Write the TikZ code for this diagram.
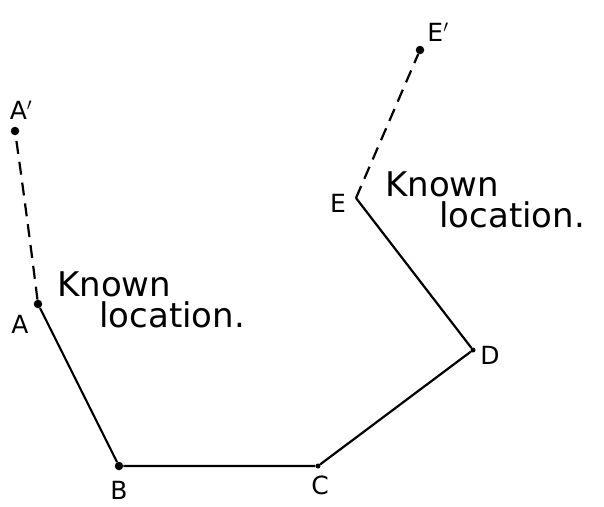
\documentclass[tikz,border=0pt]{standalone}
\usepackage{fontspec}
\newfontfamily\handfont{DejaVu Sans}
\usetikzlibrary{positioning}

\begin{document}
\begin{tikzpicture}[
  x=1pt, y=-1pt,
  font=\handfont,
  stn/.style  = {circle, fill=black, inner sep=0pt, minimum size=8.5pt},
  stns/.style = {circle, fill=black, inner sep=0pt, minimum size=5pt},
  ptlbl/.style = {font=\handfont\fontsize{25}{28}\selectfont, inner sep=0pt},
  known/.style = {font=\handfont\fontsize{34}{31}\selectfont, align=left, anchor=north west, inner sep=0pt},
  leg/.style  = {line width=2.2pt},
  ext/.style  = {line width=2.2pt, dash pattern=on 13pt off 8pt},
]
\useasboundingbox (0,0) rectangle (604,506);
% traverse stations
\node[stn]  (Ap) at (15,131)  {};
\node[stn]  (A)  at (38,304)  {};
\node[stn]  (B)  at (119,466) {};
\node[stns] (C)  at (318,466) {};
\node[stns] (D)  at (473,350) {};
\coordinate (E) at (356,198);
\node[stn]  (Ep) at (420,50)  {};
% labels
\node[ptlbl] at (21,110)  {A$'$};
\node[ptlbl] at (20,324)  {A};
\node[ptlbl] at (119,490) {B};
\node[ptlbl] at (320,485) {C};
\node[ptlbl] at (490,355) {D};
\node[ptlbl] at (338,203) {E};
\node[ptlbl] at (438,32)  {E$'$};
\node[known] at (57,272)  {Known\\\hspace*{42pt}location.};
\node[known] at (385,172) {Known\\\hspace*{54pt}location.};
% legs
\draw[leg] (A) -- (B) -- (C) -- (D) -- (E);
\draw[ext] (A) .. controls (30,240) and (22,180) .. (Ap);
\draw[ext] (E) -- (Ep);
\end{tikzpicture}
\end{document}
